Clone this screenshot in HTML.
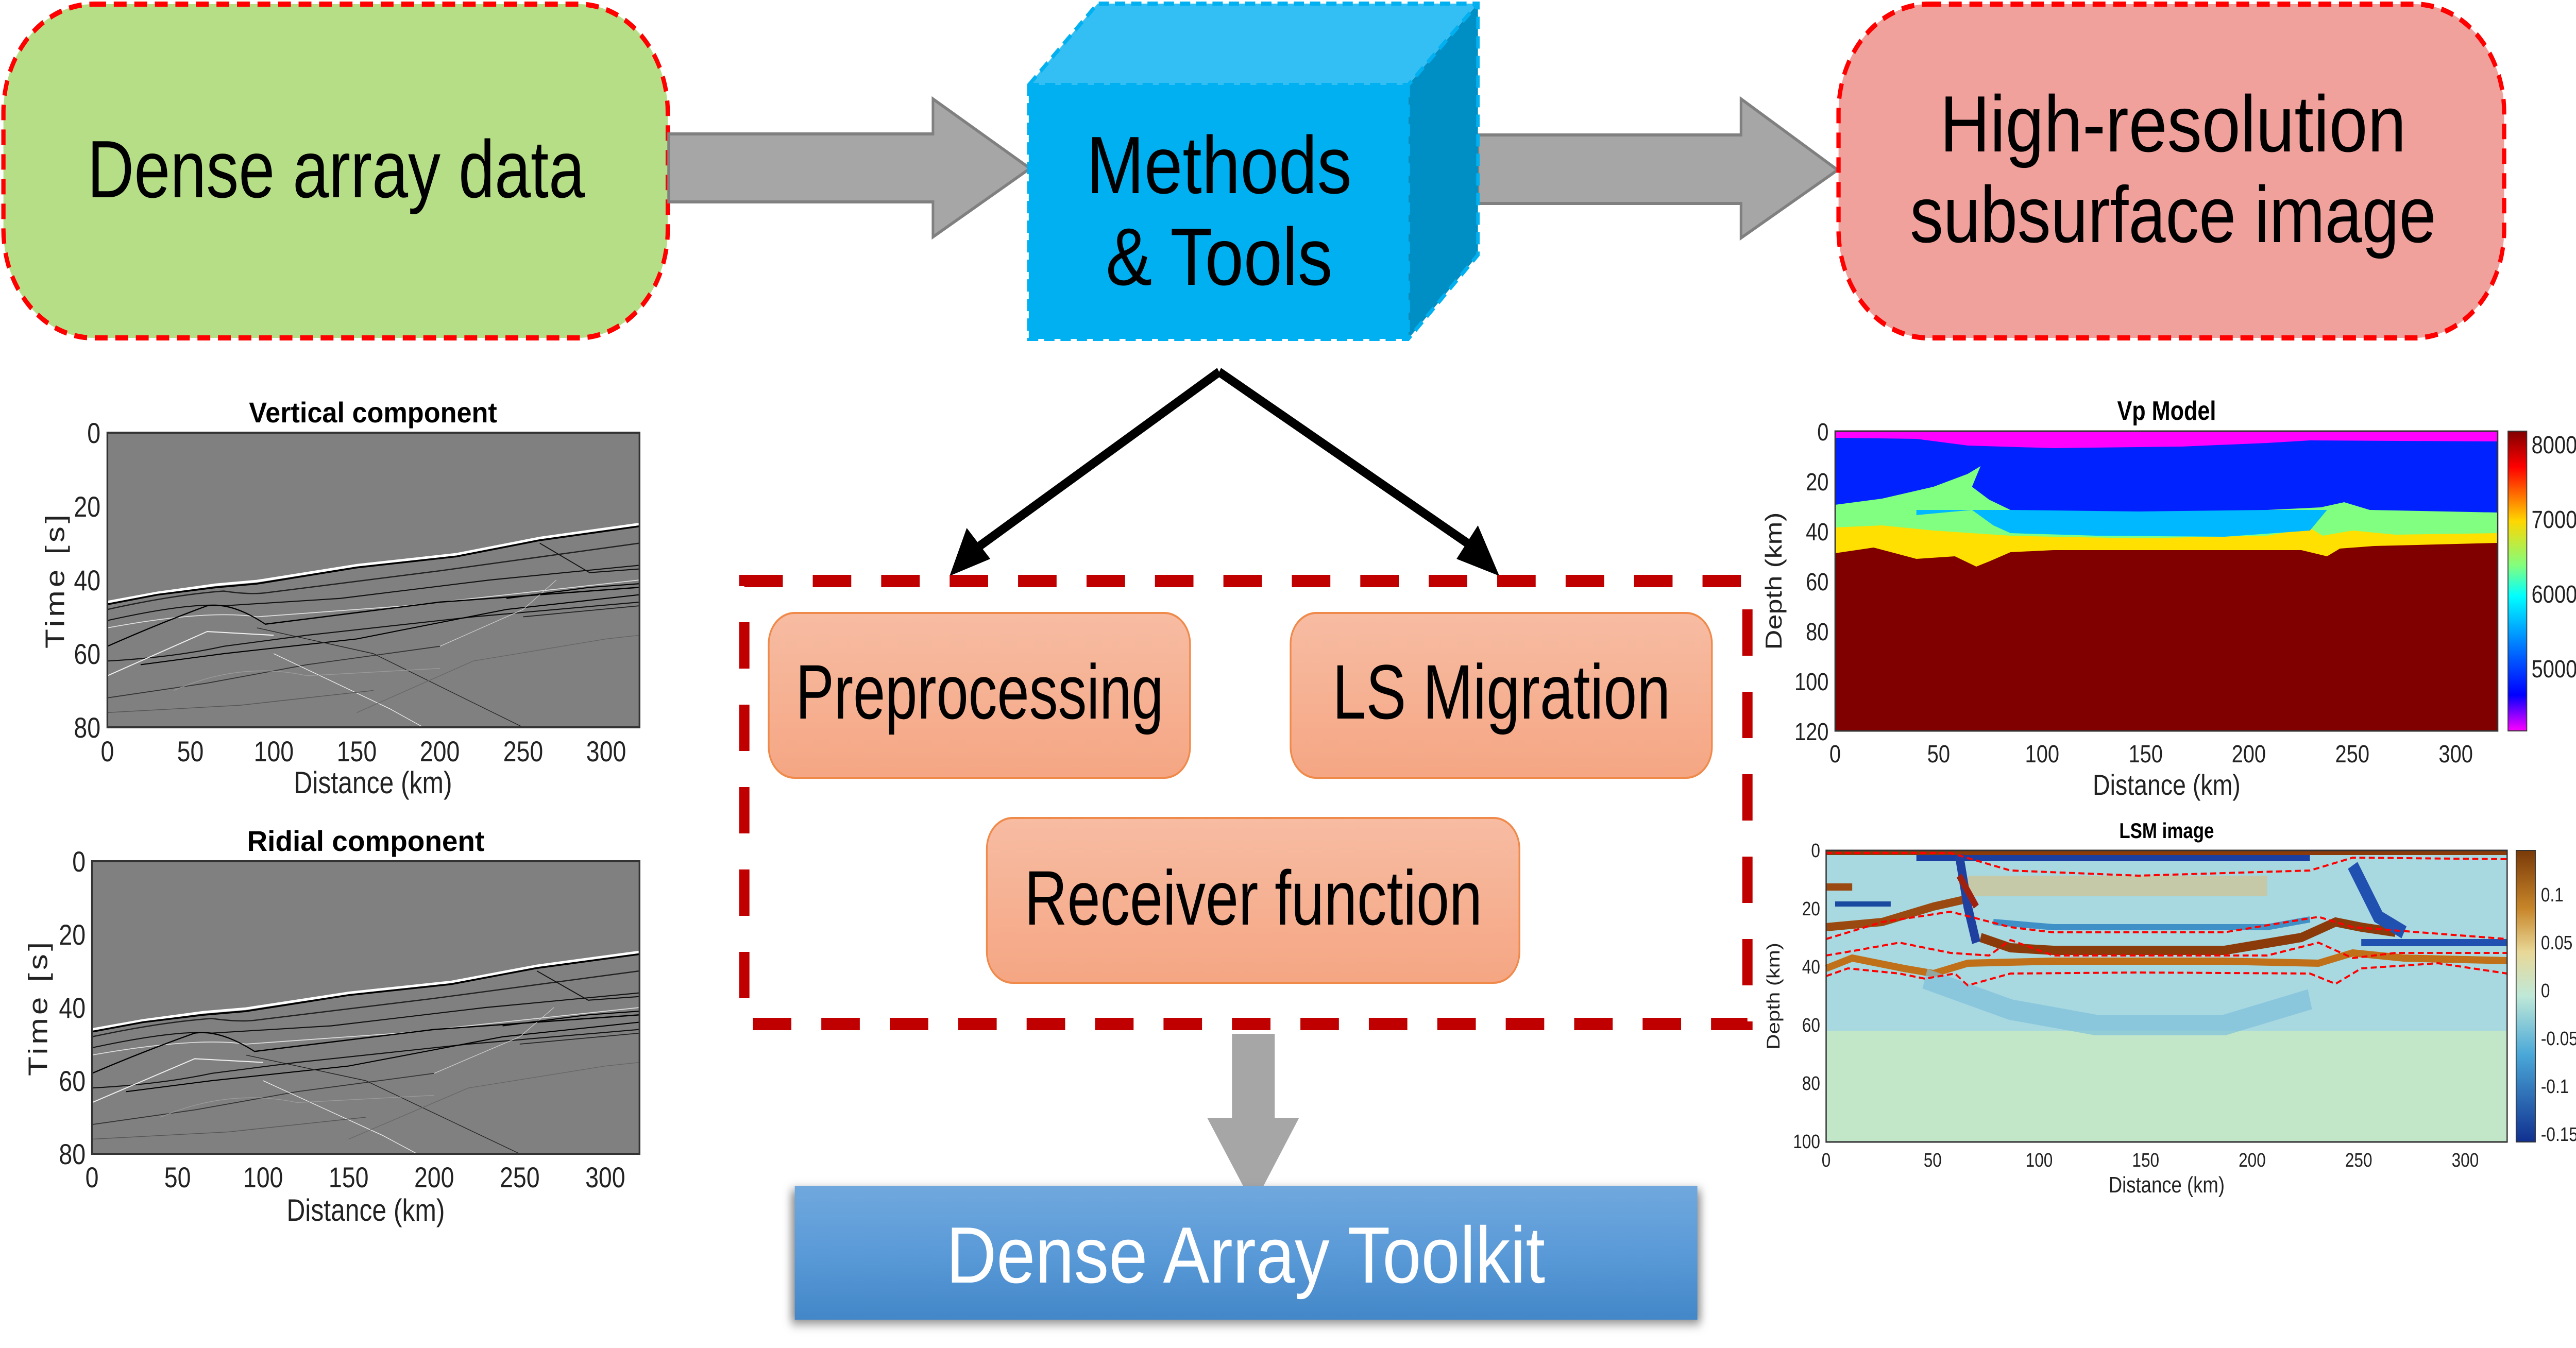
<!DOCTYPE html>
<html><head><meta charset="utf-8"><style>html,body{margin:0;padding:0;background:#fff;overflow:hidden;width:100%;height:100%}svg{display:block;width:100vw;height:100vh}</style></head>
<body>
<svg viewBox="0 0 6022 2617" preserveAspectRatio="none" xmlns="http://www.w3.org/2000/svg" font-family="Liberation Sans, sans-serif">
<defs>
<linearGradient id="og" x1="0" y1="0" x2="0" y2="1"><stop offset="0" stop-color="#f7bca3"/><stop offset="1" stop-color="#f5a683"/></linearGradient>
<linearGradient id="bg" x1="0" y1="0" x2="0" y2="1"><stop offset="0" stop-color="#70a8dd"/><stop offset="0.5" stop-color="#5a9ad8"/><stop offset="1" stop-color="#4387c8"/></linearGradient>
<linearGradient id="jet" x1="0" y1="0" x2="0" y2="1"><stop offset="0" stop-color="#800000"/><stop offset="0.12" stop-color="#ff0000"/><stop offset="0.3" stop-color="#ffd700"/><stop offset="0.45" stop-color="#80ff80"/><stop offset="0.55" stop-color="#00ffff"/><stop offset="0.75" stop-color="#0060ff"/><stop offset="0.88" stop-color="#0000ff"/><stop offset="1" stop-color="#ff00ff"/></linearGradient>
<linearGradient id="lsmc" x1="0" y1="0" x2="0" y2="1"><stop offset="0" stop-color="#7a3a08"/><stop offset="0.2" stop-color="#c8862a"/><stop offset="0.35" stop-color="#e8d898"/><stop offset="0.5" stop-color="#bfe8d8"/><stop offset="0.7" stop-color="#4aa8d8"/><stop offset="1" stop-color="#103090"/></linearGradient>
<filter id="sh" x="-5%" y="-10%" width="110%" height="120%"><feGaussianBlur stdDeviation="10"/></filter>
<symbol id="seis" viewBox="0 0 320 80" preserveAspectRatio="none">
<rect width="320" height="80" fill="#808080"/>
<g fill="none" vector-effect="non-scaling-stroke">
<path d="M0 46 L30 43.5 L65 41.3 L90 40.3 L150 36 L210 33 L260 28.6 L320 24.8" stroke="#fff" stroke-width="0.7"/>
<path d="M0 46.6 L30 44 L65 42 L90 41 L150 36.6 L210 33.6 L260 29.2 L320 25.4" stroke="#000" stroke-width="0.5"/>
<path d="M0 48 Q40 44 70 43 Q85 44 95 43.5 L200 37.5 L320 30" stroke="#222" stroke-width="0.35"/>
<path d="M0 51 Q50 46 70 47 L140 45 L230 40 L320 36" stroke="#111" stroke-width="0.3"/>
<path d="M0 53 Q60 48 90 50 L180 47 L320 40" stroke="#ddd" stroke-width="0.25"/>
<path d="M0 58 Q30 52 60 47 Q75 46 95 52 L200 46 L320 42" stroke="#000" stroke-width="0.35"/>
<path d="M0 62 Q40 61 70 58 L120 55 L220 50 L320 46" stroke="#111" stroke-width="0.3"/>
<path d="M0 66 Q30 60 60 54 L100 55" stroke="#eee" stroke-width="0.3"/>
<path d="M20 63 L70 60 L150 56 L240 48 L320 44" stroke="#000" stroke-width="0.3"/>
<path d="M0 72 L60 68 L120 63 L200 58" stroke="#333" stroke-width="0.25"/>
<path d="M90 53 L160 60 L250 80" stroke="#222" stroke-width="0.2"/>
<path d="M100 60 L170 75 L190 80" stroke="#eee" stroke-width="0.2"/>
<path d="M200 58 L250 48 L270 40" stroke="#ccc" stroke-width="0.2"/>
<path d="M260 30 L290 38 L320 37" stroke="#111" stroke-width="0.3"/>
<path d="M240 45 L290 42 L320 41" stroke="#000" stroke-width="0.3"/>
<path d="M250 50 L320 47" stroke="#222" stroke-width="0.25"/>
<path d="M0 76 L80 74 L160 70" stroke="#555" stroke-width="0.2"/>
<path d="M40 70 Q80 62 120 66 L200 64" stroke="#999" stroke-width="0.2"/>
<path d="M150 76 L220 62 L300 56 L320 55" stroke="#666" stroke-width="0.2"/>
</g>
</symbol>
</defs>

<rect x="8" y="8" width="1553" height="648" rx="210" fill="#b6de86" stroke="#ff0000" stroke-width="10" stroke-dasharray="30 18"/>
<text x="204" y="383" font-size="158" textLength="1163" lengthAdjust="spacingAndGlyphs">Dense array data</text>

<path d="M1563 260 L2181 260 L2181 192 L2408 327 L2181 460 L2181 392 L1563 392 Z" fill="#a6a6a6" stroke="#808080" stroke-width="6"/>
<path d="M3455 262 L4070 262 L4070 192 L4296 330 L4070 462 L4070 395 L3455 395 Z" fill="#a6a6a6" stroke="#808080" stroke-width="6"/>

<polygon points="2405,165 2566,7 3455,7 3292,165" fill="#33bff4"/>
<polygon points="3292,165 3455,7 3455,495 3292,658" fill="#008fc4"/>
<rect x="2405" y="165" width="887" height="493" fill="#00b0f0"/>
<path d="M2405 165 L2566 7 L3455 7 L3455 495 L3292 658 L2405 658 Z M2405 165 L3292 165 L3455 7 M3292 165 L3292 658" fill="none" stroke="#00b0f0" stroke-width="8" stroke-dasharray="24 14"/>
<text x="2850" y="375" font-size="158" text-anchor="middle" textLength="620" lengthAdjust="spacingAndGlyphs">Methods</text>
<text x="2850" y="553" font-size="158" text-anchor="middle" textLength="530" lengthAdjust="spacingAndGlyphs">&amp; Tools</text>

<rect x="4298" y="8" width="1556" height="648" rx="210" fill="#f0a19c" stroke="#ff0000" stroke-width="10" stroke-dasharray="30 18"/>
<text x="5080" y="294" font-size="155" text-anchor="middle" textLength="1090" lengthAdjust="spacingAndGlyphs">High-resolution</text>
<text x="5080" y="470" font-size="155" text-anchor="middle" textLength="1230" lengthAdjust="spacingAndGlyphs">subsurface image</text>

<path d="M2850 722 L2290 1060" stroke="#000" stroke-width="18" fill="none"/>
<polygon points="2220,1118 2260,1025 2315,1085" fill="#000"/>
<path d="M2850 722 L3440 1060" stroke="#000" stroke-width="18" fill="none"/>
<polygon points="3505,1118 3405,1085 3455,1020" fill="#000"/>

<rect x="1740" y="1128" width="2345" height="860" fill="none" stroke="#c00000" stroke-width="24" stroke-dasharray="90 70"/>

<rect x="1797" y="1190" width="985" height="320" rx="60" fill="url(#og)" stroke="#f08a4b" stroke-width="4"/>
<text x="2290" y="1395" font-size="150" text-anchor="middle" textLength="860" lengthAdjust="spacingAndGlyphs">Preprocessing</text>
<rect x="3017" y="1190" width="985" height="320" rx="60" fill="url(#og)" stroke="#f08a4b" stroke-width="4"/>
<text x="3510" y="1395" font-size="150" text-anchor="middle" textLength="790" lengthAdjust="spacingAndGlyphs">LS Migration</text>
<rect x="2307" y="1588" width="1245" height="320" rx="60" fill="url(#og)" stroke="#f08a4b" stroke-width="4"/>
<text x="2930" y="1795" font-size="150" text-anchor="middle" textLength="1070" lengthAdjust="spacingAndGlyphs">Receiver function</text>

<polygon points="2880,2007 2980,2007 2980,2170 3037,2170 2930,2340 2822,2170 2880,2170" fill="#a6a6a6"/>

<rect x="1850" y="2310" width="2125" height="260" fill="#888" filter="url(#sh)"/>
<rect x="1858" y="2302" width="2110" height="260" fill="url(#bg)"/>
<text x="2912" y="2490" font-size="155" text-anchor="middle" fill="#fff" textLength="1400" lengthAdjust="spacingAndGlyphs">Dense Array Toolkit</text>

<g font-size="56" fill="#222">
<text x="872" y="820" font-weight="bold" text-anchor="middle" fill="#000" textLength="580" lengthAdjust="spacingAndGlyphs">Vertical component</text>
<use href="#seis" x="251" y="840" width="1244" height="572"/>
<rect x="251" y="840" width="1244" height="572" fill="none" stroke="#333" stroke-width="4"/>
<g text-anchor="end"><text x="235" y="860">0</text><text x="235" y="1003">20</text><text x="235" y="1146">40</text><text x="235" y="1289">60</text><text x="235" y="1432">80</text></g>
<g text-anchor="middle"><text x="251" y="1478">0</text><text x="445" y="1478">50</text><text x="640" y="1478">100</text><text x="834" y="1478">150</text><text x="1028" y="1478">200</text><text x="1223" y="1478">250</text><text x="1417" y="1478">300</text>
<text x="872" y="1540" font-size="60">Distance (km)</text></g>
<text transform="translate(150,1126) rotate(-90)" text-anchor="middle" font-size="62" letter-spacing="6">Time [s]</text>
</g>

<g font-size="56" fill="#222">
<text x="855" y="1652" font-weight="bold" text-anchor="middle" fill="#000" textLength="555" lengthAdjust="spacingAndGlyphs">Ridial component</text>
<use href="#seis" x="215" y="1672" width="1280" height="568"/>
<rect x="215" y="1672" width="1280" height="568" fill="none" stroke="#333" stroke-width="4"/>
<g text-anchor="end"><text x="200" y="1692">0</text><text x="200" y="1834">20</text><text x="200" y="1976">40</text><text x="200" y="2118">60</text><text x="200" y="2260">80</text></g>
<g text-anchor="middle"><text x="215" y="2305">0</text><text x="415" y="2305">50</text><text x="615" y="2305">100</text><text x="815" y="2305">150</text><text x="1015" y="2305">200</text><text x="1215" y="2305">250</text><text x="1415" y="2305">300</text>
<text x="855" y="2370" font-size="60">Distance (km)</text></g>
<text transform="translate(110,1956) rotate(-90)" text-anchor="middle" font-size="62" letter-spacing="6">Time [s]</text>
</g>

<g>
<rect x="4290" y="837" width="1549" height="582" fill="#800000"/>
<path d="M4290 1074 L4380 1063 L4480 1085 L4570 1080 L4620 1100 L4650 1090 L4700 1072 L4800 1068 L5000 1068 L5380 1068 L5440 1080 L5470 1065 L5550 1060 L5650 1058 L5839 1054 L5839 837 L4290 837 Z" fill="#ffe000"/>
<path d="M4290 1024 L4400 1020 L4520 1030 L4700 1040 L4800 1042 L5000 1045 L5300 1040 L5400 1025 L5430 1040 L5500 1030 L5600 1038 L5839 1035 L5839 837 L4290 837 Z" fill="#80ff80"/>
<path d="M4480 1000 L4610 990 L4660 1020 L4700 1035 L4900 1040 L5200 1042 L5400 1030 L5440 990 L4480 990 Z" fill="#00b8ff"/>
<path d="M4290 980 L4400 968 L4520 945 L4600 920 L4630 905 L4610 945 L4650 970 L4700 990 L5000 993 L5300 990 L5425 985 L5480 975 L5540 990 L5839 995 L5839 837 L4290 837 Z" fill="#0022ff"/>
<path d="M4290 850 L4480 852 L4600 865 L4800 870 L5100 867 L5300 860 L5400 855 L5839 857 L5839 837 L4290 837 Z" fill="#ff00ff"/>
<rect x="4290" y="837" width="1549" height="582" fill="none" stroke="#333" stroke-width="3"/>
<rect x="5863" y="837" width="44" height="582" fill="url(#jet)" stroke="#333" stroke-width="2"/>
<g font-size="48" fill="#222">
<text x="5065" y="815" font-size="52" font-weight="bold" text-anchor="middle" fill="#000">Vp Model</text>
<g text-anchor="end"><text x="4275" y="855">0</text><text x="4275" y="952">20</text><text x="4275" y="1049">40</text><text x="4275" y="1146">60</text><text x="4275" y="1243">80</text><text x="4275" y="1340">100</text><text x="4275" y="1437">120</text></g>
<g text-anchor="middle"><text x="4290" y="1480">0</text><text x="4532" y="1480">50</text><text x="4774" y="1480">100</text><text x="5016" y="1480">150</text><text x="5257" y="1480">200</text><text x="5499" y="1480">250</text><text x="5741" y="1480">300</text>
<text x="5065" y="1543" font-size="56">Distance (km)</text></g>
<text transform="translate(4165,1128) rotate(-90)" text-anchor="middle" font-size="54">Depth (km)</text>
<g><text x="5918" y="880">8000</text><text x="5918" y="1025">7000</text><text x="5918" y="1170">6000</text><text x="5918" y="1315">5000</text></g>
</g>
</g>

<g>
<rect x="4269" y="1651" width="1592" height="566" fill="#c2e6c8"/>
<rect x="4269" y="1651" width="1592" height="350" fill="#a8d8e0"/>
<path d="M4269 1651 L5861 1651 L5861 1660 L4269 1660 Z" fill="#8b3a0a"/>
<path d="M4480 1660 L5400 1660 L5400 1672 L4480 1672 Z" fill="#1a3fa0"/>
<path d="M4600 1700 L5300 1700 L5300 1740 L4600 1740 Z" fill="#d8c080" opacity="0.6"/>
<path d="M4269 1800 L4400 1790 L4520 1760 L4600 1745" stroke="#9a4a10" stroke-width="16" fill="none"/>
<path d="M4270 1722 L4330 1722" stroke="#9a4a10" stroke-width="14"/>
<path d="M4290 1755 L4420 1755" stroke="#1a4aa0" stroke-width="10"/>
<path d="M4630 1820 L4700 1840 L4800 1845 L5200 1845 L5380 1820 L5460 1790 L5520 1800 L5600 1810" stroke="#8b3a0a" stroke-width="18" fill="none"/>
<path d="M4660 1790 L4800 1800 L5300 1800 L5400 1785" stroke="#4090c8" stroke-width="12" fill="none"/>
<path d="M4269 1880 L4330 1860 L4450 1880 L4520 1890 L4600 1870 L4800 1866 L5200 1866 L5420 1870 L5500 1850 L5620 1860 L5861 1865" stroke="#c07018" stroke-width="14" fill="none"/>
<path d="M5500 1680 L5560 1780 L5620 1810" stroke="#2050b0" stroke-width="26" fill="none"/>
<path d="M5520 1830 L5861 1830" stroke="#2050b0" stroke-width="14"/>
<path d="M4580 1660 L4600 1760 L4620 1830" stroke="#2040a0" stroke-width="20" fill="none"/>
<path d="M4580 1700 L4620 1760" stroke="#a02010" stroke-width="14" fill="none"/>
<path d="M4500 1900 L4700 1960 L4900 1990 L5200 1990 L5400 1940" stroke="#7ec0dc" stroke-width="40" fill="none" opacity="0.7"/>
<g fill="none" stroke="#ff0000" stroke-width="4" stroke-dasharray="14 8">
<path d="M4269 1656 L4560 1656 L4700 1690 L5000 1700 L5400 1690 L5500 1665 L5861 1668"/>
<path d="M4269 1823 L4400 1790 L4560 1770 L4700 1800 L4800 1810 L5200 1810 L5420 1780 L5500 1800 L5861 1823"/>
<path d="M4269 1855 L4340 1845 L4440 1830 L4560 1850 L4650 1855 L4700 1825 L4800 1855 L5300 1855 L5420 1830 L5500 1860 L5600 1850 L5861 1850"/>
<path d="M4269 1895 L4320 1880 L4440 1890 L4500 1900 L4570 1890 L4600 1913 L4700 1890 L5000 1888 L5400 1890 L5460 1910 L5520 1880 L5700 1870 L5861 1890"/>
</g>
<rect x="4269" y="1651" width="1592" height="566" fill="none" stroke="#333" stroke-width="3"/>
<rect x="5882" y="1651" width="45" height="566" fill="url(#lsmc)" stroke="#333" stroke-width="2"/>
<g font-size="38" fill="#222">
<text x="5065" y="1627" font-size="42" font-weight="bold" text-anchor="middle" fill="#000">LSM image</text>
<g text-anchor="end"><text x="4255" y="1664">0</text><text x="4255" y="1777">20</text><text x="4255" y="1890">40</text><text x="4255" y="2003">60</text><text x="4255" y="2116">80</text><text x="4255" y="2229">100</text></g>
<g text-anchor="middle"><text x="4269" y="2265">0</text><text x="4518" y="2265">50</text><text x="4767" y="2265">100</text><text x="5016" y="2265">150</text><text x="5265" y="2265">200</text><text x="5514" y="2265">250</text><text x="5763" y="2265">300</text>
<text x="5065" y="2315" font-size="44">Distance (km)</text></g>
<text transform="translate(4160,1934) rotate(-90)" text-anchor="middle" font-size="42">Depth (km)</text>
<g><text x="5940" y="1750">0.1</text><text x="5940" y="1843">0.05</text><text x="5940" y="1936">0</text><text x="5940" y="2029">-0.05</text><text x="5940" y="2122">-0.1</text><text x="5940" y="2215">-0.15</text></g>
</g>
</g>
</svg>
</body></html>
